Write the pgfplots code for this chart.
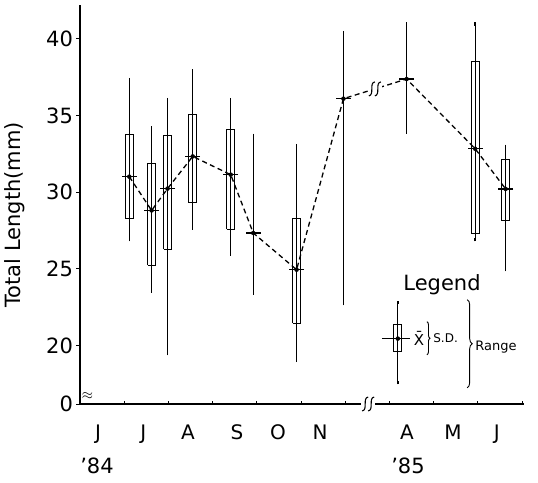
\documentclass[border=0pt]{standalone}
\usepackage{fontspec}
\setmainfont{DejaVu Sans}
\usepackage{pgfplots}
\usepackage{pgfplotstable}
\pgfplotsset{compat=1.18}
\usetikzlibrary{decorations.pathreplacing}

% sample position (months from 1 June 1984), mean, range low, range high
\pgfplotstableread{
x     m      lo     hi
1.115 31.01  26.91  37.33
1.62  28.81  23.58  34.18
1.98  30.23  19.48  36.03
2.55  32.33  27.67  37.90
3.41  31.14  25.99  36.03
3.92  27.34  23.43  33.70
4.90  24.95  19.04  33.03
5.96  36.09  22.74  40.39
7.39  37.37  33.92  40.96
8.94  32.83  26.91  40.96
9.63  30.21  24.95  32.98
}\lengthdata

% legend key
\pgfplotstableread{
x     m      lo     hi
7.19  20.46  17.59  22.80
}\keydata

% S.D. box: left, right, mean-SD, mean+SD
\newcommand{\sdbox}[4]{%
  \addplot[black, line width=0.9pt, line join=miter]
    coordinates {(#1,#3) (#2,#3) (#2,#4) (#1,#4) (#1,#3)};}

\newcommand{\bigfont}{\fontsize{21}{21}\selectfont}

% scale break mark
\tikzset{brk/.pic={
  \fill[white] (-7pt,-4pt) rectangle (7pt,4pt);
  \draw[black, line width=1.1pt] (-6pt,-7pt) .. controls (0pt,-6pt) and (-6pt,6pt) .. (0pt,7pt);
  \draw[black, line width=1.1pt] (0pt,-7pt) .. controls (6pt,-6pt) and (0pt,6pt) .. (6pt,7pt);
}}

\begin{document}
\begin{tikzpicture}
\useasboundingbox (-80pt,-78pt) rectangle (458pt,404pt);
\begin{axis}[
  at={(0,0)}, anchor=south west,
  x=44.2pt, y=15.35pt,
  xmin=0, xmax=10.05, ymin=16.2, ymax=42.2,
  axis x line*=bottom, axis y line*=left,
  axis line style={line width=1.2pt},
  clip=false,
  xtick={0,1,2,3,4,5,6,7,8,9,10}, xticklabels={},
  xtick align=inside, ytick align=outside,
  major tick length=3.5pt,
  every tick/.style={black, line width=1pt},
  extra x ticks={0.41,1.43,2.44,3.55,4.48,5.43,7.4,8.44,9.43},
  extra x tick labels={J,J,A,S,O,N,A,M,J},
  extra x tick style={major tick length=0pt,
    tick label style={yshift=-17pt, font=\fontsize{20}{20}\selectfont}},
  ytick={16.2,20,25,30,35,40},
  yticklabels={0,20,25,30,35,40},
  tick label style={font=\bigfont},
  ylabel={Total Length(mm)},
  ylabel style={at={(axis description cs:-0.146,0.474)}, anchor=center, font=\bigfont},
]
% ranges
\addplot[black, only marks, mark=none,
  error bars/.cd, y dir=both, y explicit,
  error bar style={line width=1.2pt},
  error mark=-, error mark options={black, mark size=1.8pt, line width=1.4pt}]
  table[x=x, y=m, y error plus expr=\thisrow{hi}-\thisrow{m},
        y error minus expr=\thisrow{m}-\thisrow{lo}] {\lengthdata};
\addplot[black, only marks, mark=none,
  error bars/.cd, y dir=both, y explicit,
  error bar style={line width=1.2pt},
  error mark=-, error mark options={black, mark size=1.8pt, line width=1.4pt}]
  table[x=x, y=m, y error plus expr=\thisrow{hi}-\thisrow{m},
        y error minus expr=\thisrow{m}-\thisrow{lo}] {\keydata};
% standard deviation boxes (8 pt wide)
\sdbox{1.025}{1.205}{28.27}{33.75}
\sdbox{1.53}{1.71}{25.23}{31.84}
\sdbox{1.89}{2.07}{26.30}{33.68}
\sdbox{2.46}{2.64}{29.30}{35.05}
\sdbox{3.32}{3.50}{27.60}{34.07}
\sdbox{4.81}{4.99}{21.48}{28.32}
\sdbox{8.85}{9.03}{27.34}{38.52}
\sdbox{9.54}{9.72}{28.14}{32.12}
\sdbox{7.10}{7.28}{19.61}{21.37}
% means
\addplot[black, line width=1.3pt, dash pattern=on 5pt off 3.5pt,
  mark=-, mark size=7.5pt, mark options={solid, line width=1.2pt}]
  table[x=x, y=m] {\lengthdata};
\addplot[black, line width=1.1pt] coordinates {(6.83,20.46) (7.47,20.46)};

% breaks
\path (axis cs:6.52,16.2) pic {brk};
\path (axis cs:6.67,36.73) pic {brk};
\node[anchor=west, inner sep=0pt, font=\fontsize{15}{15}\selectfont]
  at (axis cs:0.04,16.72) {$\approx$};

% years
\node[font=\bigfont] at (axis cs:0.385,12.18) {’84};
\node[font=\bigfont] at (axis cs:7.42,12.18) {’85};

% legend
\node[font=\bigfont] at (axis cs:8.19,23.97) {Legend};
\node[font=\fontsize{15}{15}\selectfont, inner sep=0pt] at (axis cs:7.67,20.46) {\=X};
\draw[black, line width=0.9pt, decorate, decoration={brace, amplitude=3pt}]
  (axis cs:7.85,21.56) -- (axis cs:7.85,19.41);
\node[anchor=west, inner sep=0pt, font=\fontsize{12}{12}\selectfont]
  at (axis cs:7.99,20.46) {S.D.};
\draw[black, line width=0.9pt, decorate, decoration={brace, amplitude=5pt}]
  (axis cs:8.76,23.0) -- (axis cs:8.76,17.26);
\node[anchor=west, inner sep=0pt, font=\fontsize{13}{13}\selectfont]
  at (axis cs:8.94,19.93) {Range};
\end{axis}
\end{tikzpicture}
\end{document}
